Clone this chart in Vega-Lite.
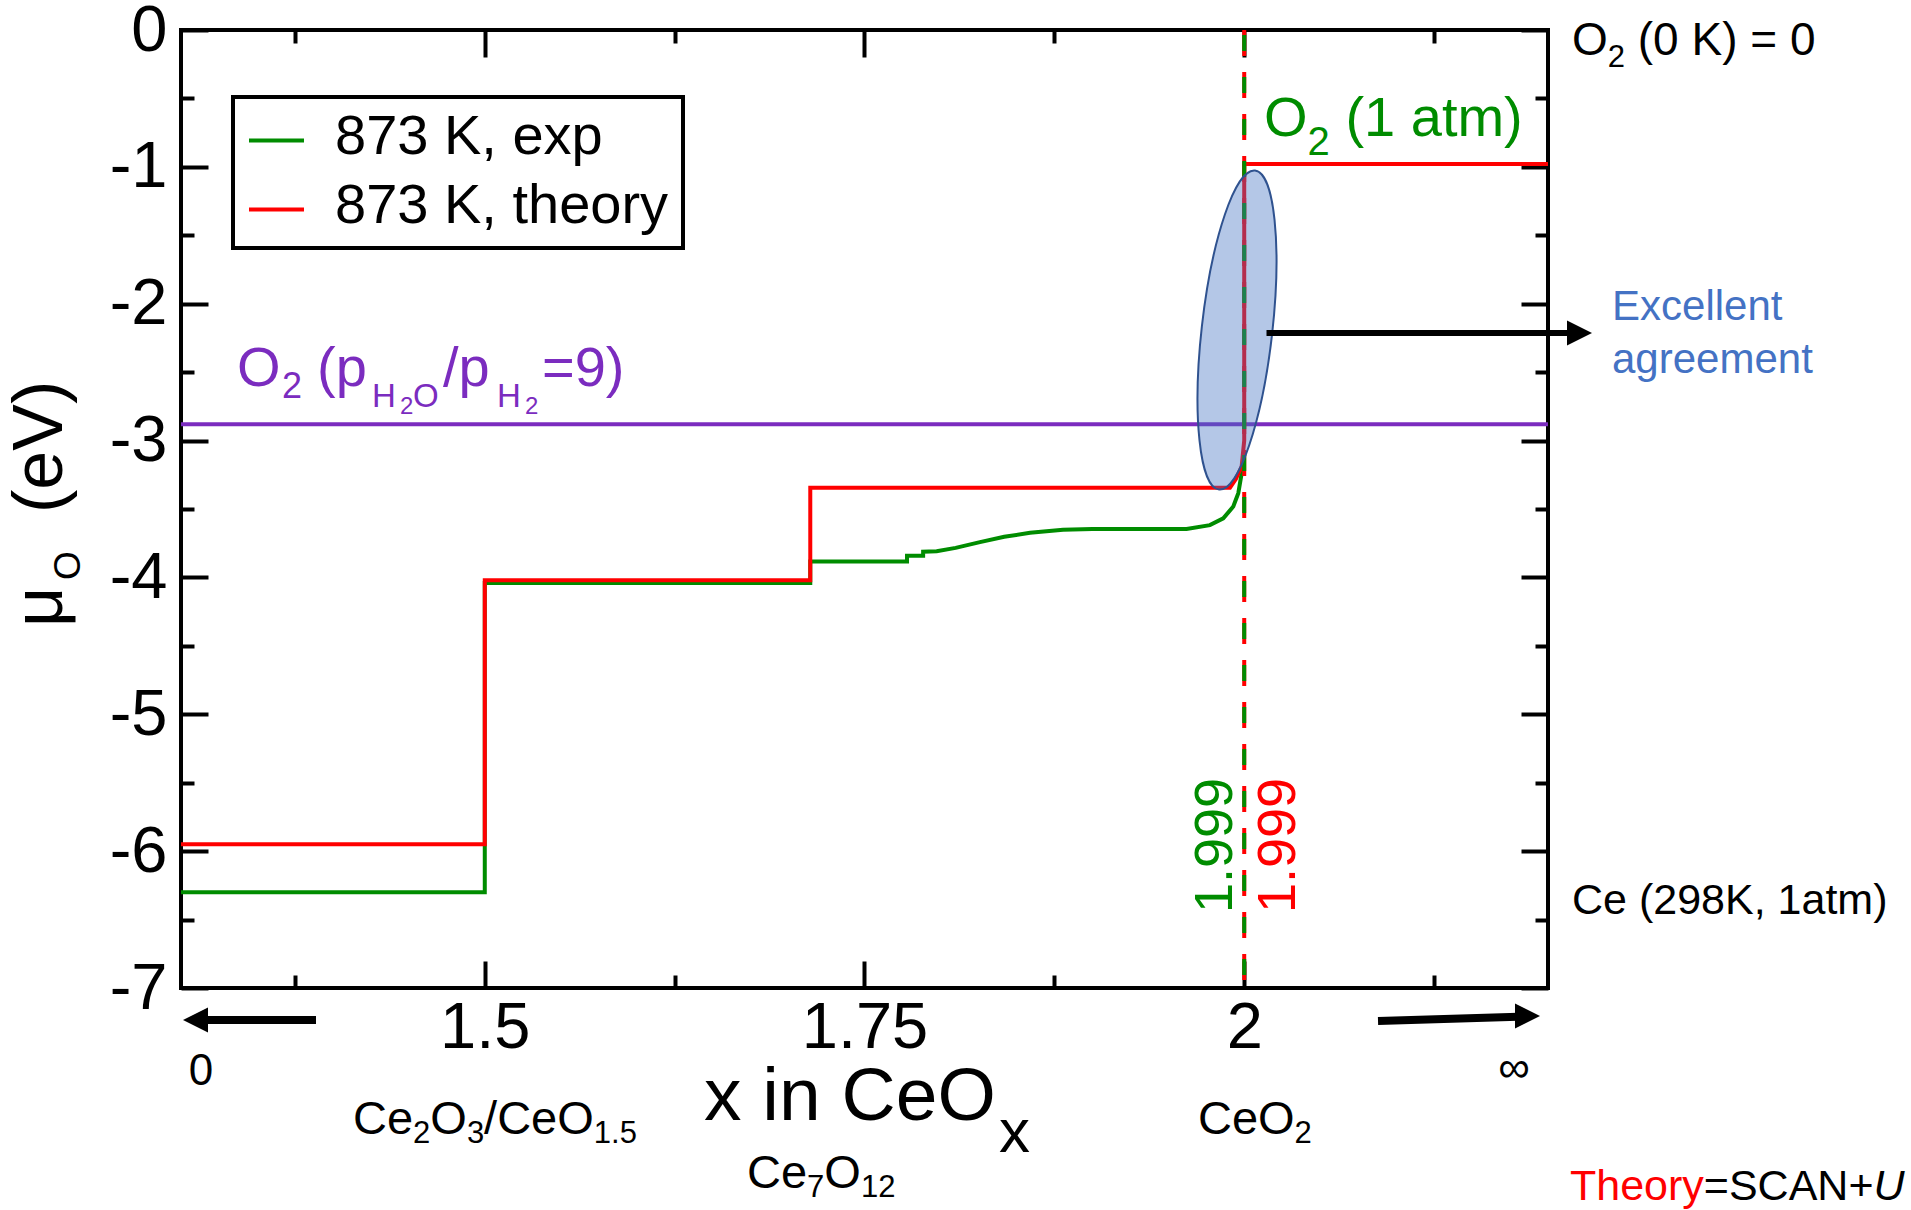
{
  "$schema": "https://vega.github.io/schema/vega-lite/v6.json",
  "width": 1367,
  "height": 958,
  "autosize": {"type": "none"},
  "padding": {"left": 181, "top": 30, "right": 363, "bottom": 222},
  "background": "white",
  "config": {
    "view": {"stroke": "black", "strokeWidth": 4},
    "font": "Liberation Sans"
  },
  "datasets": {
    "curves": [
      {"s": "873 K, exp", "i": 0, "x": 1.3, "y": -6.30},
      {"s": "873 K, exp", "i": 1, "x": 1.5, "y": -6.30},
      {"s": "873 K, exp", "i": 2, "x": 1.5, "y": -4.04},
      {"s": "873 K, exp", "i": 3, "x": 1.7143, "y": -4.04},
      {"s": "873 K, exp", "i": 4, "x": 1.7143, "y": -3.884},
      {"s": "873 K, exp", "i": 5, "x": 1.778, "y": -3.884},
      {"s": "873 K, exp", "i": 6, "x": 1.778, "y": -3.842},
      {"s": "873 K, exp", "i": 7, "x": 1.7886, "y": -3.842},
      {"s": "873 K, exp", "i": 8, "x": 1.7886, "y": -3.812},
      {"s": "873 K, exp", "i": 9, "x": 1.7975, "y": -3.808},
      {"s": "873 K, exp", "i": 10, "x": 1.81, "y": -3.784},
      {"s": "873 K, exp", "i": 11, "x": 1.826, "y": -3.742},
      {"s": "873 K, exp", "i": 12, "x": 1.842, "y": -3.703},
      {"s": "873 K, exp", "i": 13, "x": 1.859, "y": -3.674},
      {"s": "873 K, exp", "i": 14, "x": 1.8807, "y": -3.652},
      {"s": "873 K, exp", "i": 15, "x": 1.9, "y": -3.646},
      {"s": "873 K, exp", "i": 16, "x": 1.962, "y": -3.646},
      {"s": "873 K, exp", "i": 17, "x": 1.9774, "y": -3.618},
      {"s": "873 K, exp", "i": 18, "x": 1.9862, "y": -3.568},
      {"s": "873 K, exp", "i": 19, "x": 1.9928, "y": -3.482},
      {"s": "873 K, exp", "i": 20, "x": 1.9961, "y": -3.384},
      {"s": "873 K, exp", "i": 21, "x": 1.9983, "y": -3.24},
      {"s": "873 K, exp", "i": 22, "x": 1.9995, "y": -3.10},
      {"s": "873 K, theory", "i": 0, "x": 1.3, "y": -5.95},
      {"s": "873 K, theory", "i": 1, "x": 1.5, "y": -5.95},
      {"s": "873 K, theory", "i": 2, "x": 1.5, "y": -4.02},
      {"s": "873 K, theory", "i": 3, "x": 1.7143, "y": -4.02},
      {"s": "873 K, theory", "i": 4, "x": 1.7143, "y": -3.345},
      {"s": "873 K, theory", "i": 5, "x": 1.9906, "y": -3.345},
      {"s": "873 K, theory", "i": 6, "x": 1.9945, "y": -3.28},
      {"s": "873 K, theory", "i": 7, "x": 1.9983, "y": -3.19},
      {"s": "873 K, theory", "i": 8, "x": 2.0, "y": -3.0},
      {"s": "873 K, theory", "i": 9, "x": 2.0, "y": -0.98},
      {"s": "873 K, theory", "i": 10, "x": 2.2, "y": -0.98}
    ],
    "guides": [{"x": 2, "y": 0, "y2": -7}],
    "levels": [{"y": -2.88}],
    "ellipse": [{"x": 1.99525, "y": -2.1921}],
    "shafts": [
      {"a": "top", "x": 2.01467, "y": -2.214, "x2": 2.21579, "y2": -2.214},
      {"a": "bottom", "x": 1.38888, "y": -7.2338, "x2": 1.31251, "y2": -7.2338},
      {"a": "bottom", "x": 2.08808, "y": -7.2411, "x2": 2.18025, "y2": -7.2095}
    ],
    "heads": [
      {"d": "r", "x": 2.22897, "y": -2.214},
      {"d": "l", "x": 1.30132, "y": -7.2338},
      {"d": "r", "x": 2.19473, "y": -7.2046}
    ],
    "labels": [
      {"g": "t46", "t": "O", "x": 2.2158, "y": -0.18267},
      {"g": "t46", "t": "(0 K) = 0", "x": 2.25912, "y": -0.18267},
      {"g": "t46s", "t": "2", "x": 2.23937, "y": -0.27036},
      {"g": "t43", "t": "Ce (298K, 1atm)", "x": 2.2158, "y": -6.4593},
      {"g": "t43", "t": "=SCAN+", "x": 2.30258, "y": -8.54907},
      {"g": "t43r", "t": "Theory", "x": 2.21448, "y": -8.54907},
      {"g": "t43i", "t": "U", "x": 2.4143, "y": -8.54907},
      {"g": "g56", "t": "O", "x": 2.01302, "y": -0.77818},
      {"g": "g56", "t": "(1 atm)", "x": 2.06661, "y": -0.77818},
      {"g": "g40", "t": "2", "x": 2.04173, "y": -0.91336},
      {"g": "b42", "t": "Excellent", "x": 2.24214, "y": -2.119},
      {"g": "b42", "t": "agreement", "x": 2.24214, "y": -2.506},
      {"g": "p56", "t": "O", "x": 1.33687, "y": -2.60126},
      {"g": "p56", "t": "(p", "x": 1.38954, "y": -2.60126},
      {"g": "p56", "t": "/p", "x": 1.47249, "y": -2.60126},
      {"g": "p56", "t": "=9)", "x": 1.53767, "y": -2.60126},
      {"g": "p36", "t": "2", "x": 1.3665, "y": -2.68894},
      {"g": "p30", "t": "H", "x": 1.42575, "y": -2.7547},
      {"g": "p30", "t": "O", "x": 1.45274, "y": -2.7547},
      {"g": "p30", "t": "H", "x": 1.50805, "y": -2.7547},
      {"g": "p21", "t": "2", "x": 1.44418, "y": -2.80585},
      {"g": "p21", "t": "2", "x": 1.52648, "y": -2.80585},
      {"g": "f47", "t": "Ce", "x": 1.41324, "y": -8.06316},
      {"g": "f47", "t": "O", "x": 1.46413, "y": -8.06316},
      {"g": "f47", "t": "/CeO", "x": 1.49955, "y": -8.06316},
      {"g": "f47", "t": "CeO", "x": 1.96957, "y": -8.06316},
      {"g": "f47", "t": "Ce", "x": 1.67264, "y": -8.46139},
      {"g": "f47", "t": "O", "x": 1.72354, "y": -8.46139},
      {"g": "f31", "t": "2", "x": 1.45281, "y": -8.12893},
      {"g": "f31", "t": "3", "x": 1.48823, "y": -8.12893},
      {"g": "f31", "t": "1.5", "x": 1.57178, "y": -8.12893},
      {"g": "f31", "t": "2", "x": 2.03318, "y": -8.12893},
      {"g": "f31", "t": "7", "x": 1.71221, "y": -8.52715},
      {"g": "f31", "t": "12", "x": 1.74764, "y": -8.52715},
      {"g": "c44", "t": "0", "x": 1.31317, "y": -7.70878},
      {"g": "c44", "t": "∞", "x": 2.17762, "y": -7.68686},
      {"g": "xt75", "t": "x in CeO", "x": 1.64433, "y": -7.96452},
      {"g": "xt62", "t": "x", "x": 1.83855, "y": -8.19834},
      {"g": "yt70", "t": "μ", "x": 1.22165, "y": -4.36222},
      {"g": "yt70", "t": "(eV)", "x": 1.22165, "y": -3.52923},
      {"g": "yt32", "t": "O", "x": 1.2335, "y": -4.0188},
      {"g": "n54g", "t": "1.999", "x": 1.99195, "y": -6.45199},
      {"g": "n54r", "t": "1.999", "x": 2.03344, "y": -6.45199}
    ]
  },
  "resolve": {"axis": {"x": "independent", "y": "independent"}},
  "layer": [
    {
      "data": {"name": "levels"},
      "mark": {"type": "rule", "color": "#7b2cbf", "strokeWidth": 4},
      "encoding": {
        "y": {"field": "y", "type": "quantitative", "scale": {"domain": [-7, 0], "nice": false, "zero": false}, "axis": null}
      }
    },
    {
      "data": {"name": "curves"},
      "transform": [{"filter": {"field": "s", "equal": "873 K, exp"}}],
      "mark": {"type": "line", "strokeWidth": 4},
      "encoding": {
        "x": {"field": "x", "type": "quantitative", "scale": {"domain": [1.3, 2.2], "nice": false, "zero": false},
          "axis": {"orient": "bottom", "values": [1.5, 1.75, 2], "ticks": false, "domain": false, "grid": false, "title": null, "labelFont": "Liberation Sans", "labelFontSize": 65, "labelColor": "black", "labelPadding": 8, "labelBaseline": "top", "labelFlush": false, "labelOverlap": false, "labelExpr": "datum.value + ''"}},
        "y": {"field": "y", "type": "quantitative", "scale": {"domain": [-7, 0], "nice": false, "zero": false},
          "axis": {"orient": "left", "values": [0, -1, -2, -3, -4, -5, -6, -7], "ticks": false, "domain": false, "grid": false, "title": null, "labelFont": "Liberation Sans", "labelFontSize": 65, "labelColor": "black", "labelPadding": 14, "labelFlush": false, "labelOverlap": false, "labelExpr": "datum.value + ''"}},
        "color": {"field": "s", "type": "nominal",
          "scale": {"domain": ["873 K, exp", "873 K, theory"], "range": ["#008c00", "#ff0000"]},
          "legend": {"title": null, "orient": "none", "legendX": 52, "legendY": 67, "strokeColor": "black", "fillColor": "white", "padding": 14, "rowPadding": 12, "symbolType": "stroke", "symbolSize": 3025, "symbolStrokeWidth": 4, "symbolOpacity": 1, "labelFont": "Liberation Sans", "labelFontSize": 56, "labelColor": "black", "labelOffset": 29, "labelLimit": 1000,
            "encode": {"legend": {"update": {"strokeWidth": {"value": 4}}}, "labels": {"update": {"dy": {"value": -4}}}}}},
        "order": {"field": "i", "type": "quantitative"}
      }
    },
    {
      "data": {"name": "curves"},
      "transform": [{"filter": {"field": "s", "equal": "873 K, theory"}}],
      "mark": {"type": "line", "strokeWidth": 4},
      "encoding": {
        "x": {"field": "x", "type": "quantitative", "scale": {"domain": [1.3, 2.2], "nice": false, "zero": false},
          "axis": {"orient": "bottom", "values": [1.5, 1.75, 2], "ticks": true, "tickSize": -27, "tickWidth": 4, "tickColor": "black", "labels": false, "domain": false, "grid": false, "title": null}},
        "y": {"field": "y", "type": "quantitative", "scale": {"domain": [-7, 0], "nice": false, "zero": false},
          "axis": {"orient": "left", "values": [0, -1, -2, -3, -4, -5, -6, -7], "ticks": true, "tickSize": -27, "tickWidth": 4, "tickColor": "black", "labels": false, "domain": false, "grid": false, "title": null}},
        "color": {"field": "s", "type": "nominal",
          "scale": {"domain": ["873 K, exp", "873 K, theory"], "range": ["#008c00", "#ff0000"]},
          "legend": {"title": null, "orient": "none", "legendX": 52, "legendY": 67, "strokeColor": "black", "fillColor": "white", "padding": 14, "rowPadding": 12, "symbolType": "stroke", "symbolSize": 3025, "symbolStrokeWidth": 4, "symbolOpacity": 1, "labelFont": "Liberation Sans", "labelFontSize": 56, "labelColor": "black", "labelOffset": 29, "labelLimit": 1000,
            "encode": {"legend": {"update": {"strokeWidth": {"value": 4}}}, "labels": {"update": {"dy": {"value": -4}}}}}},
        "order": {"field": "i", "type": "quantitative"}
      }
    },
    {
      "data": {"name": "guides"},
      "mark": {"type": "rule", "color": "#ff0000", "strokeWidth": 4, "strokeDash": [26, 16]},
      "encoding": {
        "x": {"field": "x", "type": "quantitative", "scale": {"domain": [1.3, 2.2], "nice": false, "zero": false},
          "axis": {"orient": "bottom", "values": [1.375, 1.625, 1.875, 2.125], "ticks": true, "tickSize": -13, "tickWidth": 4, "tickColor": "black", "labels": false, "domain": false, "grid": false, "title": null}},
        "y": {"field": "y", "type": "quantitative", "scale": {"domain": [-7, 0], "nice": false, "zero": false},
          "axis": {"orient": "left", "values": [-0.5, -1.5, -2.5, -3.5, -4.5, -5.5, -6.5], "ticks": true, "tickSize": -13, "tickWidth": 4, "tickColor": "black", "labels": false, "domain": false, "grid": false, "title": null}},
        "y2": {"field": "y2"}
      }
    },
    {
      "data": {"name": "guides"},
      "mark": {"type": "rule", "color": "#008c00", "strokeWidth": 4, "strokeDash": [16, 26], "strokeDashOffset": -5},
      "encoding": {
        "x": {"field": "x", "type": "quantitative", "scale": {"domain": [1.3, 2.2], "nice": false, "zero": false},
          "axis": {"orient": "top", "values": [1.5, 1.75, 2], "ticks": true, "tickSize": -27, "tickWidth": 4, "tickColor": "black", "labels": false, "domain": false, "grid": false, "title": null}},
        "y": {"field": "y", "type": "quantitative", "scale": {"domain": [-7, 0], "nice": false, "zero": false},
          "axis": {"orient": "right", "values": [0, -1, -2, -3, -4, -5, -6, -7], "ticks": true, "tickSize": -27, "tickWidth": 4, "tickColor": "black", "labels": false, "domain": false, "grid": false, "title": null}},
        "y2": {"field": "y2"}
      }
    },
    {
      "data": {"name": "ellipse"},
      "mark": {"type": "point", "shape": "M0.112,-0.994A0.22,1,6.44,1,0,-0.112,0.994A0.22,1,6.44,1,0,0.112,-0.994Z", "size": 103041, "filled": true, "fill": "#4472c4", "fillOpacity": 0.4, "stroke": "#2f528f", "strokeWidth": 2, "strokeOpacity": 1, "opacity": 1},
      "encoding": {
        "x": {"field": "x", "type": "quantitative", "scale": {"domain": [1.3, 2.2], "nice": false, "zero": false},
          "axis": {"orient": "top", "values": [1.375, 1.625, 1.875, 2.125], "ticks": true, "tickSize": -13, "tickWidth": 4, "tickColor": "black", "labels": false, "domain": false, "grid": false, "title": null}},
        "y": {"field": "y", "type": "quantitative", "scale": {"domain": [-7, 0], "nice": false, "zero": false},
          "axis": {"orient": "right", "values": [-0.5, -1.5, -2.5, -3.5, -4.5, -5.5, -6.5], "ticks": true, "tickSize": -13, "tickWidth": 4, "tickColor": "black", "labels": false, "domain": false, "grid": false, "title": null}}
      }
    },
    {
      "data": {"name": "shafts"},
      "transform": [{"filter": {"field": "a", "equal": "top"}}],
      "mark": {"type": "rule", "color": "black", "strokeWidth": 6},
      "encoding": {
        "x": {"field": "x", "type": "quantitative", "scale": {"domain": [1.3, 2.2], "nice": false, "zero": false}, "axis": null},
        "y": {"field": "y", "type": "quantitative", "scale": {"domain": [-7, 0], "nice": false, "zero": false}, "axis": null},
        "x2": {"field": "x2"},
        "y2": {"field": "y2"}
      }
    },
    {
      "data": {"name": "shafts"},
      "transform": [{"filter": {"field": "a", "equal": "bottom"}}],
      "mark": {"type": "rule", "color": "black", "strokeWidth": 8},
      "encoding": {
        "x": {"field": "x", "type": "quantitative", "scale": {"domain": [1.3, 2.2], "nice": false, "zero": false}, "axis": null},
        "y": {"field": "y", "type": "quantitative", "scale": {"domain": [-7, 0], "nice": false, "zero": false}, "axis": null},
        "x2": {"field": "x2"},
        "y2": {"field": "y2"}
      }
    },
    {
      "data": {"name": "heads"},
      "mark": {"type": "point", "filled": true, "fill": "black", "strokeWidth": 0, "size": 2500, "opacity": 1},
      "encoding": {
        "x": {"field": "x", "type": "quantitative", "scale": {"domain": [1.3, 2.2], "nice": false, "zero": false}, "axis": null},
        "y": {"field": "y", "type": "quantitative", "scale": {"domain": [-7, 0], "nice": false, "zero": false}, "axis": null},
        "shape": {"field": "d", "type": "nominal", "scale": {"domain": ["l", "r"], "range": ["M0,0L1,-0.5L1,0.5Z", "M0,0L-1,-0.5L-1,0.5Z"]}, "legend": null}
      }
    },
    {
      "data": {"name": "labels"},
      "transform": [{"filter": {"field": "g", "equal": "t46"}}],
      "mark": {"type": "text", "align": "left", "baseline": "alphabetic", "font": "Liberation Sans", "fontSize": 46, "color": "black"},
      "encoding": {
        "x": {"field": "x", "type": "quantitative", "scale": {"domain": [1.3, 2.2], "nice": false, "zero": false}, "axis": null},
        "y": {"field": "y", "type": "quantitative", "scale": {"domain": [-7, 0], "nice": false, "zero": false}, "axis": null},
        "text": {"field": "t"}
      }
    },
    {
      "data": {"name": "labels"},
      "transform": [{"filter": {"field": "g", "equal": "t46s"}}],
      "mark": {"type": "text", "align": "left", "baseline": "alphabetic", "font": "Liberation Sans", "fontSize": 31, "color": "black"},
      "encoding": {
        "x": {"field": "x", "type": "quantitative", "scale": {"domain": [1.3, 2.2], "nice": false, "zero": false}, "axis": null},
        "y": {"field": "y", "type": "quantitative", "scale": {"domain": [-7, 0], "nice": false, "zero": false}, "axis": null},
        "text": {"field": "t"}
      }
    },
    {
      "data": {"name": "labels"},
      "transform": [{"filter": {"field": "g", "equal": "t43"}}],
      "mark": {"type": "text", "align": "left", "baseline": "alphabetic", "font": "Liberation Sans", "fontSize": 43, "color": "black"},
      "encoding": {
        "x": {"field": "x", "type": "quantitative", "scale": {"domain": [1.3, 2.2], "nice": false, "zero": false}, "axis": null},
        "y": {"field": "y", "type": "quantitative", "scale": {"domain": [-7, 0], "nice": false, "zero": false}, "axis": null},
        "text": {"field": "t"}
      }
    },
    {
      "data": {"name": "labels"},
      "transform": [{"filter": {"field": "g", "equal": "t43r"}}],
      "mark": {"type": "text", "align": "left", "baseline": "alphabetic", "font": "Liberation Sans", "fontSize": 43, "color": "#ff0000"},
      "encoding": {
        "x": {"field": "x", "type": "quantitative", "scale": {"domain": [1.3, 2.2], "nice": false, "zero": false}, "axis": null},
        "y": {"field": "y", "type": "quantitative", "scale": {"domain": [-7, 0], "nice": false, "zero": false}, "axis": null},
        "text": {"field": "t"}
      }
    },
    {
      "data": {"name": "labels"},
      "transform": [{"filter": {"field": "g", "equal": "t43i"}}],
      "mark": {"type": "text", "align": "left", "baseline": "alphabetic", "font": "Liberation Sans", "fontSize": 43, "fontStyle": "italic", "color": "black"},
      "encoding": {
        "x": {"field": "x", "type": "quantitative", "scale": {"domain": [1.3, 2.2], "nice": false, "zero": false}, "axis": null},
        "y": {"field": "y", "type": "quantitative", "scale": {"domain": [-7, 0], "nice": false, "zero": false}, "axis": null},
        "text": {"field": "t"}
      }
    },
    {
      "data": {"name": "labels"},
      "transform": [{"filter": {"field": "g", "equal": "g56"}}],
      "mark": {"type": "text", "align": "left", "baseline": "alphabetic", "font": "Liberation Sans", "fontSize": 56, "color": "#008c00"},
      "encoding": {
        "x": {"field": "x", "type": "quantitative", "scale": {"domain": [1.3, 2.2], "nice": false, "zero": false}, "axis": null},
        "y": {"field": "y", "type": "quantitative", "scale": {"domain": [-7, 0], "nice": false, "zero": false}, "axis": null},
        "text": {"field": "t"}
      }
    },
    {
      "data": {"name": "labels"},
      "transform": [{"filter": {"field": "g", "equal": "g40"}}],
      "mark": {"type": "text", "align": "left", "baseline": "alphabetic", "font": "Liberation Sans", "fontSize": 40, "color": "#008c00"},
      "encoding": {
        "x": {"field": "x", "type": "quantitative", "scale": {"domain": [1.3, 2.2], "nice": false, "zero": false}, "axis": null},
        "y": {"field": "y", "type": "quantitative", "scale": {"domain": [-7, 0], "nice": false, "zero": false}, "axis": null},
        "text": {"field": "t"}
      }
    },
    {
      "data": {"name": "labels"},
      "transform": [{"filter": {"field": "g", "equal": "b42"}}],
      "mark": {"type": "text", "align": "left", "baseline": "alphabetic", "font": "Liberation Sans", "fontSize": 42, "color": "#4472c4"},
      "encoding": {
        "x": {"field": "x", "type": "quantitative", "scale": {"domain": [1.3, 2.2], "nice": false, "zero": false}, "axis": null},
        "y": {"field": "y", "type": "quantitative", "scale": {"domain": [-7, 0], "nice": false, "zero": false}, "axis": null},
        "text": {"field": "t"}
      }
    },
    {
      "data": {"name": "labels"},
      "transform": [{"filter": {"field": "g", "equal": "p56"}}],
      "mark": {"type": "text", "align": "left", "baseline": "alphabetic", "font": "Liberation Sans", "fontSize": 56, "color": "#7b2cbf"},
      "encoding": {
        "x": {"field": "x", "type": "quantitative", "scale": {"domain": [1.3, 2.2], "nice": false, "zero": false}, "axis": null},
        "y": {"field": "y", "type": "quantitative", "scale": {"domain": [-7, 0], "nice": false, "zero": false}, "axis": null},
        "text": {"field": "t"}
      }
    },
    {
      "data": {"name": "labels"},
      "transform": [{"filter": {"field": "g", "equal": "p36"}}],
      "mark": {"type": "text", "align": "left", "baseline": "alphabetic", "font": "Liberation Sans", "fontSize": 36, "color": "#7b2cbf"},
      "encoding": {
        "x": {"field": "x", "type": "quantitative", "scale": {"domain": [1.3, 2.2], "nice": false, "zero": false}, "axis": null},
        "y": {"field": "y", "type": "quantitative", "scale": {"domain": [-7, 0], "nice": false, "zero": false}, "axis": null},
        "text": {"field": "t"}
      }
    },
    {
      "data": {"name": "labels"},
      "transform": [{"filter": {"field": "g", "equal": "p30"}}],
      "mark": {"type": "text", "align": "left", "baseline": "alphabetic", "font": "Liberation Sans", "fontSize": 33, "color": "#7b2cbf"},
      "encoding": {
        "x": {"field": "x", "type": "quantitative", "scale": {"domain": [1.3, 2.2], "nice": false, "zero": false}, "axis": null},
        "y": {"field": "y", "type": "quantitative", "scale": {"domain": [-7, 0], "nice": false, "zero": false}, "axis": null},
        "text": {"field": "t"}
      }
    },
    {
      "data": {"name": "labels"},
      "transform": [{"filter": {"field": "g", "equal": "p21"}}],
      "mark": {"type": "text", "align": "left", "baseline": "alphabetic", "font": "Liberation Sans", "fontSize": 24, "color": "#7b2cbf"},
      "encoding": {
        "x": {"field": "x", "type": "quantitative", "scale": {"domain": [1.3, 2.2], "nice": false, "zero": false}, "axis": null},
        "y": {"field": "y", "type": "quantitative", "scale": {"domain": [-7, 0], "nice": false, "zero": false}, "axis": null},
        "text": {"field": "t"}
      }
    },
    {
      "data": {"name": "labels"},
      "transform": [{"filter": {"field": "g", "equal": "f47"}}],
      "mark": {"type": "text", "align": "left", "baseline": "alphabetic", "font": "Liberation Sans", "fontSize": 47, "color": "black"},
      "encoding": {
        "x": {"field": "x", "type": "quantitative", "scale": {"domain": [1.3, 2.2], "nice": false, "zero": false}, "axis": null},
        "y": {"field": "y", "type": "quantitative", "scale": {"domain": [-7, 0], "nice": false, "zero": false}, "axis": null},
        "text": {"field": "t"}
      }
    },
    {
      "data": {"name": "labels"},
      "transform": [{"filter": {"field": "g", "equal": "f31"}}],
      "mark": {"type": "text", "align": "left", "baseline": "alphabetic", "font": "Liberation Sans", "fontSize": 31, "color": "black"},
      "encoding": {
        "x": {"field": "x", "type": "quantitative", "scale": {"domain": [1.3, 2.2], "nice": false, "zero": false}, "axis": null},
        "y": {"field": "y", "type": "quantitative", "scale": {"domain": [-7, 0], "nice": false, "zero": false}, "axis": null},
        "text": {"field": "t"}
      }
    },
    {
      "data": {"name": "labels"},
      "transform": [{"filter": {"field": "g", "equal": "c44"}}],
      "mark": {"type": "text", "align": "center", "baseline": "alphabetic", "font": "Liberation Sans", "fontSize": 44, "color": "black"},
      "encoding": {
        "x": {"field": "x", "type": "quantitative", "scale": {"domain": [1.3, 2.2], "nice": false, "zero": false}, "axis": null},
        "y": {"field": "y", "type": "quantitative", "scale": {"domain": [-7, 0], "nice": false, "zero": false}, "axis": null},
        "text": {"field": "t"}
      }
    },
    {
      "data": {"name": "labels"},
      "transform": [{"filter": {"field": "g", "equal": "xt75"}}],
      "mark": {"type": "text", "align": "left", "baseline": "alphabetic", "font": "Liberation Sans", "fontSize": 75, "color": "black"},
      "encoding": {
        "x": {"field": "x", "type": "quantitative", "scale": {"domain": [1.3, 2.2], "nice": false, "zero": false}, "axis": null},
        "y": {"field": "y", "type": "quantitative", "scale": {"domain": [-7, 0], "nice": false, "zero": false}, "axis": null},
        "text": {"field": "t"}
      }
    },
    {
      "data": {"name": "labels"},
      "transform": [{"filter": {"field": "g", "equal": "xt62"}}],
      "mark": {"type": "text", "align": "left", "baseline": "alphabetic", "font": "Liberation Sans", "fontSize": 62, "color": "black"},
      "encoding": {
        "x": {"field": "x", "type": "quantitative", "scale": {"domain": [1.3, 2.2], "nice": false, "zero": false}, "axis": null},
        "y": {"field": "y", "type": "quantitative", "scale": {"domain": [-7, 0], "nice": false, "zero": false}, "axis": null},
        "text": {"field": "t"}
      }
    },
    {
      "data": {"name": "labels"},
      "transform": [{"filter": {"field": "g", "equal": "yt70"}}],
      "mark": {"type": "text", "align": "left", "baseline": "alphabetic", "angle": 270, "font": "Liberation Sans", "fontSize": 70, "color": "black"},
      "encoding": {
        "x": {"field": "x", "type": "quantitative", "scale": {"domain": [1.3, 2.2], "nice": false, "zero": false}, "axis": null},
        "y": {"field": "y", "type": "quantitative", "scale": {"domain": [-7, 0], "nice": false, "zero": false}, "axis": null},
        "text": {"field": "t"}
      }
    },
    {
      "data": {"name": "labels"},
      "transform": [{"filter": {"field": "g", "equal": "yt32"}}],
      "mark": {"type": "text", "align": "left", "baseline": "alphabetic", "angle": 270, "font": "Liberation Sans", "fontSize": 37, "color": "black"},
      "encoding": {
        "x": {"field": "x", "type": "quantitative", "scale": {"domain": [1.3, 2.2], "nice": false, "zero": false}, "axis": null},
        "y": {"field": "y", "type": "quantitative", "scale": {"domain": [-7, 0], "nice": false, "zero": false}, "axis": null},
        "text": {"field": "t"}
      }
    },
    {
      "data": {"name": "labels"},
      "transform": [{"filter": {"field": "g", "equal": "n54g"}}],
      "mark": {"type": "text", "align": "left", "baseline": "alphabetic", "angle": 270, "font": "Liberation Sans", "fontSize": 54, "color": "#008c00"},
      "encoding": {
        "x": {"field": "x", "type": "quantitative", "scale": {"domain": [1.3, 2.2], "nice": false, "zero": false}, "axis": null},
        "y": {"field": "y", "type": "quantitative", "scale": {"domain": [-7, 0], "nice": false, "zero": false}, "axis": null},
        "text": {"field": "t"}
      }
    },
    {
      "data": {"name": "labels"},
      "transform": [{"filter": {"field": "g", "equal": "n54r"}}],
      "mark": {"type": "text", "align": "left", "baseline": "alphabetic", "angle": 270, "font": "Liberation Sans", "fontSize": 54, "color": "#ff0000"},
      "encoding": {
        "x": {"field": "x", "type": "quantitative", "scale": {"domain": [1.3, 2.2], "nice": false, "zero": false}, "axis": null},
        "y": {"field": "y", "type": "quantitative", "scale": {"domain": [-7, 0], "nice": false, "zero": false}, "axis": null},
        "text": {"field": "t"}
      }
    }
  ]
}
